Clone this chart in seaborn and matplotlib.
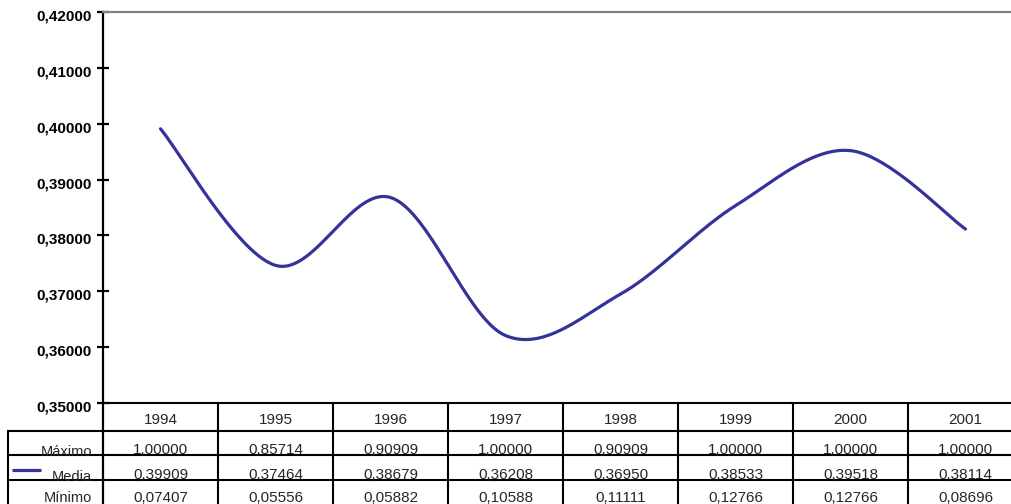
import numpy as np
import pandas as pd
import seaborn as sns
import matplotlib
matplotlib.use("Agg")
import matplotlib.pyplot as plt
from matplotlib import transforms
from matplotlib.lines import Line2D

# Yearly summary values
years = ["1994", "1995", "1996", "1997", "1998", "1999", "2000", "2001"]
maximo = [1.00000, 0.85714, 0.90909, 1.00000, 0.90909, 1.00000, 1.00000, 1.00000]
media = [0.39909, 0.37464, 0.38679, 0.36208, 0.36950, 0.38533, 0.39518, 0.38114]
minimo = [0.07407, 0.05556, 0.05882, 0.10588, 0.11111, 0.12766, 0.12766, 0.08696]
row_labels = ["Máximo", "Media", "Mínimo"]
y_ticks = [0.35, 0.36, 0.37, 0.38, 0.39, 0.40, 0.41, 0.42]

LINE_COLOR = "#333399"
W, H = 1012, 504


def fmt(v):
    return f"{v:.5f}".replace(".", ",")


def smooth_curve(xs, ys, n=40):
    """Smoothed line through the points: cubic Bezier segments
    with Catmull-Rom style control points."""
    pts = np.column_stack([xs, ys]).astype(float)
    ext = np.vstack([pts[0], pts, pts[-1]])
    t = np.linspace(0, 1, n)[:, None]
    parts = []
    for i in range(len(pts) - 1):
        p0, p3 = ext[i + 1], ext[i + 2]
        c1 = p0 + (ext[i + 2] - ext[i]) / 6
        c2 = p3 - (ext[i + 3] - ext[i + 1]) / 6
        seg = (1 - t) ** 3 * p0 + 3 * (1 - t) ** 2 * t * c1 + 3 * (1 - t) * t ** 2 * c2 + t ** 3 * p3
        parts.append(seg if i == 0 else seg[1:])
    return np.vstack(parts)


sns.set_theme(style="white")
plt.rcParams["font.family"] = ["Liberation Sans", "DejaVu Sans"]

fig = plt.figure(figsize=(W / 100, H / 100), dpi=100)
# plot area runs a little past the right edge of the figure
ax = fig.add_axes([103 / W, 101 / H, 920 / W, 391 / H])

pos = np.arange(len(years))
curve = smooth_curve(pos, media)
df = pd.DataFrame({"x": curve[:, 0], "y": curve[:, 1]})
sns.lineplot(data=df, x="x", y="y", sort=False, color=LINE_COLOR,
             linewidth=2.3, ax=ax, legend=False)

ax.set_xlim(-0.5, len(years) - 0.5)
ax.set_ylim(0.35, 0.42)
ax.set_xticks([])
ax.set_yticks(y_ticks, labels=[fmt(v) for v in y_ticks],
              fontweight="bold", fontsize=11)
ax.tick_params(axis="y", direction="inout", length=8, width=1.6,
               pad=4, colors="black", left=True)
ax.set_xlabel("")
ax.set_ylabel("")
ax.set_facecolor("white")
for lbl in ax.get_yticklabels():
    lbl.set_transform(lbl.get_transform() +
                      transforms.ScaledTranslation(0, -3 / 100, fig.dpi_scale_trans))

ax.spines["left"].set_color("black")
ax.spines["left"].set_linewidth(1.6)
ax.spines["bottom"].set_color("black")
ax.spines["bottom"].set_linewidth(1.5)
ax.spines["top"].set_color("#808080")
ax.spines["top"].set_linewidth(1.6)
ax.spines["right"].set_visible(False)

# pixel coordinates measured from the top-left corner of the figure
px = transforms.Affine2D().scale(1, -1).translate(0, H)
col = transforms.blended_transform_factory(ax.transData, px)

def hline(y, x0, x1):
    fig.add_artist(Line2D([x0, x1], [y, y], color="black", lw=1.5, transform=px))

# data table grid
for y in (431, 455, 480):
    hline(y, 8, W + 5)
fig.add_artist(Line2D([8, 8], [431, H + 5], color="black", lw=1.5, transform=px))
fig.add_artist(Line2D([103, 103], [403, H + 5], color="black", lw=1.6, transform=px))
for i in range(1, len(years) + 1):
    xe = i - 0.5
    fig.add_artist(Line2D([xe, xe], [403, H + 5], color="black", lw=1.5, transform=col))

# header row with the years
for i, yr in enumerate(years):
    fig.text(i, 424, yr, transform=col, ha="center", va="baseline", fontsize=11)

rows = [maximo, media, minimo]
value_base = [454, 479, 502]
label_base = [456, 481, 502]
for r, (lab, vals) in enumerate(zip(row_labels, rows)):
    fig.text(92, label_base[r], lab, transform=px, ha="right", va="baseline", fontsize=10.5)
    for i, v in enumerate(vals):
        fig.text(i, value_base[r], fmt(v), transform=col, ha="center",
                 va="baseline", fontsize=11)

# legend key for the plotted series
fig.add_artist(Line2D([12, 41], [470, 470], color=LINE_COLOR, lw=2.3,
                      solid_capstyle="butt", transform=px))

fig.savefig("out.png", dpi=100)
